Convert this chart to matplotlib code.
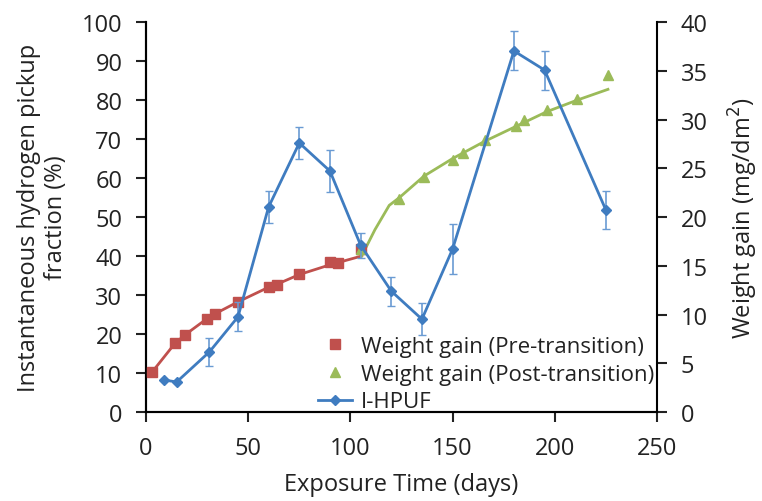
import matplotlib.pyplot as plt

plt.rcParams['font.family'] = ['Open Sans', 'DejaVu Sans']

# I-HPUF (left axis)
hpuf_days = [9, 15, 31, 45, 60, 75, 90, 105, 120, 135, 150, 180, 195, 225]
hpuf = [8.2, 7.7, 15.4, 24.4, 52.6, 69.0, 61.8, 42.8, 31.0, 23.8, 41.8, 92.6, 87.7, 51.8]
hpuf_err = [0, 0, 3.7, 3.7, 4.2, 4.2, 5.3, 3.2, 3.7, 4.1, 6.3, 5.0, 5.0, 4.9]

# weight gain pre-transition (right axis)
pre_days = [3, 14, 19, 30, 34, 45, 60, 64, 75, 90, 94, 105]
pre_wg = [4.1, 7.1, 7.9, 9.5, 10.1, 11.3, 12.8, 13.0, 14.2, 15.4, 15.3, 16.7]
pre_fit_days = [3, 14, 19, 30, 34, 45, 60, 64, 75, 90, 105.5]
pre_fit = [4.1, 7.0, 7.9, 9.6, 10.1, 11.3, 12.8, 13.1, 14.1, 15.1, 16.0]

# weight gain post-transition (right axis)
post_days = [105, 124, 136, 150, 155, 166, 181, 185, 196, 211, 226]
post_wg = [16.7, 21.8, 24.1, 25.9, 26.6, 27.9, 29.3, 30.0, 31.0, 32.1, 34.6]
post_fit_days = [105.5, 112, 119, 124, 136, 150, 166, 181, 196, 211, 226]
post_fit = [16.0, 18.7, 21.2, 22.0, 24.2, 26.0, 27.8, 29.3, 30.8, 32.0, 33.1]

red = '#C0504D'
green = '#9BBB59'
blue = '#3F7CC0'

fig = plt.figure(figsize=(7.62, 5.02), dpi=100)
ax = fig.add_axes([0.1916, 0.1773, 0.6706, 0.7767])
ax2 = ax.twinx()

ax2.plot(pre_fit_days, pre_fit, color=red, lw=2, zorder=2)
ax2.plot(post_fit_days, post_fit, color=green, lw=2, zorder=2)
h1, = ax2.plot(pre_days, pre_wg, 's', color=red, ms=7, ls='none', zorder=3,
               label='Weight gain (Pre-transition)')
h2, = ax2.plot(post_days, post_wg, '^', color=green, ms=7, ls='none', zorder=3,
               label='Weight gain (Post-transition)')

# I-HPUF drawn on the right axes (scaled 0.4) so it sits on top of the weight-gain marks
ax2.errorbar(hpuf_days, [v * 0.4 for v in hpuf], yerr=[e * 0.4 for e in hpuf_err],
             fmt='none', ecolor='#6A9BD3', elinewidth=1.2, capsize=3, zorder=4)
h3, = ax2.plot(hpuf_days, [v * 0.4 for v in hpuf], '-D', color=blue, lw=2, ms=5,
               zorder=5, label='I-HPUF')

ax.set_xlim(0, 250)
ax.set_ylim(0, 100)
ax2.set_ylim(0, 40)
ax.set_xticks(range(0, 251, 50))
ax.set_yticks(range(0, 101, 10))
ax2.set_yticks(range(0, 41, 5))

for a in (ax, ax2):
    a.spines['top'].set_visible(False)
    for s in a.spines.values():
        s.set_linewidth(1.5)
    a.tick_params(labelsize=17, width=1.5, length=7, pad=10, colors='#222222')
ax.spines['right'].set_visible(False)

ax.set_xlabel('Exposure Time (days)', fontsize=17, labelpad=9, color='#222222')
ax.set_ylabel('Instantaneous hydrogen pickup\nfraction (%)', fontsize=17,
              labelpad=10, color='#222222', linespacing=1.15)
ax2.set_ylabel('Weight gain (mg/dm$^2$)', fontsize=17, labelpad=14, color='#222222')

ax2.legend(handles=[h1, h2, h3], loc='lower right', bbox_to_anchor=(1.02, -0.035),
           frameon=False, fontsize=16, handlelength=1.5, handletextpad=0.4,
           labelspacing=0.3, borderaxespad=0.2, labelcolor='#222222')

fig.savefig('out.png', dpi=100)
